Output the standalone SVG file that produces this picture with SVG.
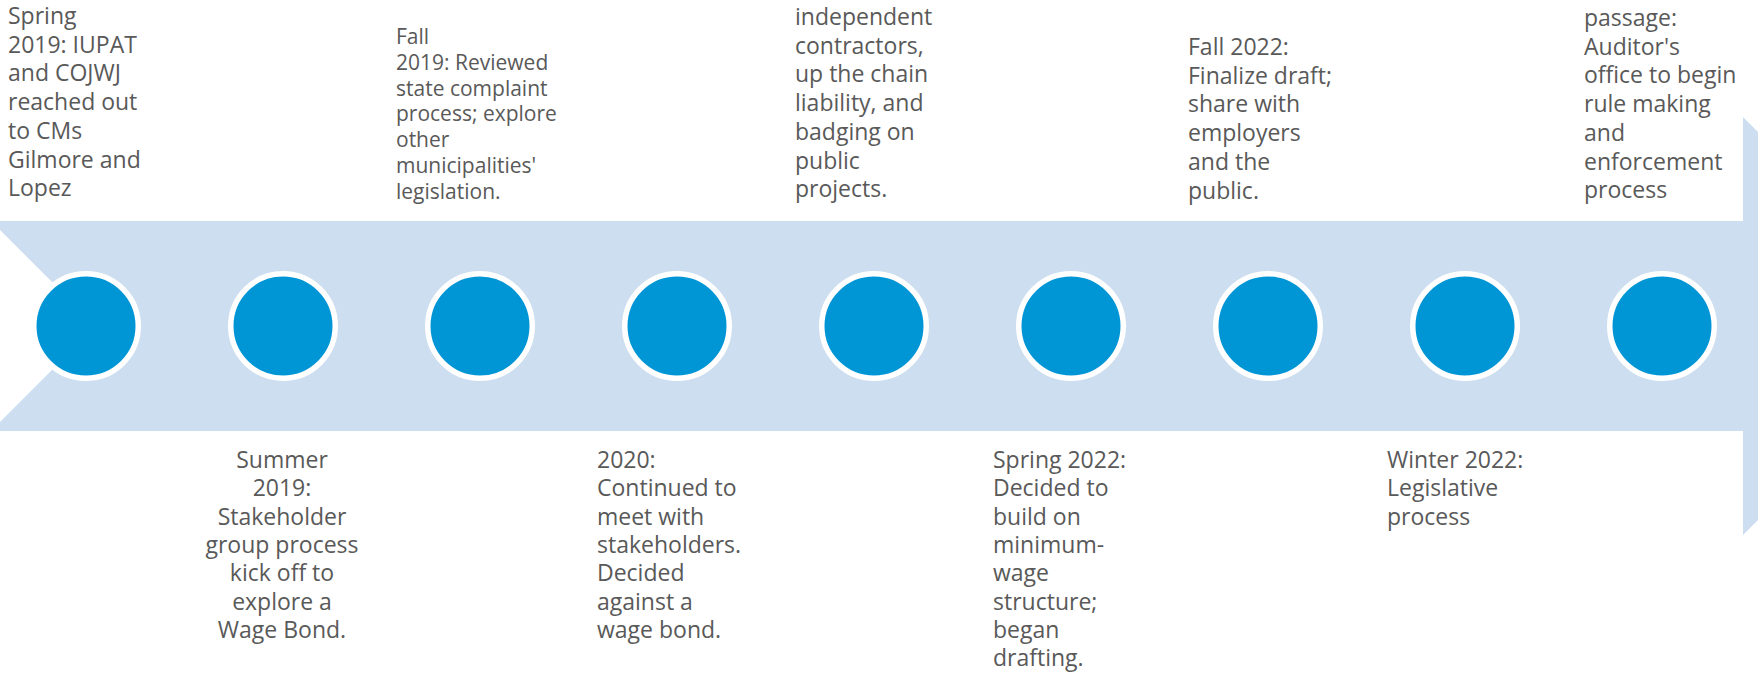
<svg xmlns="http://www.w3.org/2000/svg" width="1758" height="679" viewBox="0 0 1758 679">
<style>
.band{fill:#CCDEF0}
.dot{fill:#0096D6;stroke:#FFFFFF;stroke-width:5.5}
.t{font-family:"Open Sans","Liberation Sans",sans-serif;font-size:23px;fill:#595959}
.s{font-size:21px}
</style>
<rect width="1758" height="679" fill="#FFFFFF"/>
<g id="connectors">
<polygon class="band" points="-9,221 1743,221 1743,117 1952,326 1743,535 1743,431 -9,431 96,326"/>
</g>
<g id="node1"><circle class="dot" cx="86" cy="326" r="52.25"/>
<text class="t" x="8" y="24"><tspan x="8">Spring</tspan><tspan x="8" dy="28.7">2019: IUPAT</tspan><tspan x="8" dy="28.7">and COJWJ</tspan><tspan x="8" dy="28.7">reached out</tspan><tspan x="8" dy="28.7">to CMs</tspan><tspan x="8" dy="28.7">Gilmore and</tspan><tspan x="8" dy="28.7">Lopez</tspan></text></g>
<g id="node2"><circle class="dot" cx="283" cy="326" r="52.25"/>
<text class="t" x="282" y="468" text-anchor="middle"><tspan x="282">Summer</tspan><tspan x="282" dy="28.3">2019:</tspan><tspan x="282" dy="28.3">Stakeholder</tspan><tspan x="282" dy="28.3">group process</tspan><tspan x="282" dy="28.3">kick off to</tspan><tspan x="282" dy="28.3">explore a</tspan><tspan x="282" dy="28.3">Wage Bond.</tspan></text></g>
<g id="node3"><circle class="dot" cx="480" cy="326" r="52.25"/>
<text class="t s" x="396" y="44"><tspan x="396">Fall</tspan><tspan x="396" dy="25.8">2019: Reviewed</tspan><tspan x="396" dy="25.8">state complaint</tspan><tspan x="396" dy="25.8">process; explore</tspan><tspan x="396" dy="25.8">other</tspan><tspan x="396" dy="25.8">municipalities'</tspan><tspan x="396" dy="25.8">legislation.</tspan></text></g>
<g id="node4"><circle class="dot" cx="677" cy="326" r="52.25"/>
<text class="t" x="597" y="468"><tspan x="597">2020:</tspan><tspan x="597" dy="28.3">Continued to</tspan><tspan x="597" dy="28.3">meet with</tspan><tspan x="597" dy="28.3">stakeholders.</tspan><tspan x="597" dy="28.3">Decided</tspan><tspan x="597" dy="28.3">against a</tspan><tspan x="597" dy="28.3">wage bond.</tspan></text></g>
<g id="node5"><circle class="dot" cx="874" cy="326" r="52.25"/>
<text class="t" x="795" y="25"><tspan x="795">independent</tspan><tspan x="795" dy="28.7">contractors,</tspan><tspan x="795" dy="28.7">up the chain</tspan><tspan x="795" dy="28.7">liability, and</tspan><tspan x="795" dy="28.7">badging on</tspan><tspan x="795" dy="28.7">public</tspan><tspan x="795" dy="28.7">projects.</tspan></text></g>
<g id="node6"><circle class="dot" cx="1071" cy="326" r="52.25"/>
<text class="t" x="993" y="468"><tspan x="993">Spring 2022:</tspan><tspan x="993" dy="28.3">Decided to</tspan><tspan x="993" dy="28.3">build on</tspan><tspan x="993" dy="28.3">minimum-</tspan><tspan x="993" dy="28.3">wage</tspan><tspan x="993" dy="28.3">structure;</tspan><tspan x="993" dy="28.3">began</tspan><tspan x="993" dy="28.3">drafting.</tspan></text></g>
<g id="node7"><circle class="dot" cx="1268" cy="326" r="52.25"/>
<text class="t" x="1188" y="55"><tspan x="1188">Fall 2022:</tspan><tspan x="1188" dy="28.7">Finalize draft;</tspan><tspan x="1188" dy="28.7">share with</tspan><tspan x="1188" dy="28.7">employers</tspan><tspan x="1188" dy="28.7">and the</tspan><tspan x="1188" dy="28.7">public.</tspan></text></g>
<g id="node8"><circle class="dot" cx="1465" cy="326" r="52.25"/>
<text class="t" x="1387" y="468"><tspan x="1387">Winter 2022:</tspan><tspan x="1387" dy="28.3">Legislative</tspan><tspan x="1387" dy="28.3">process</tspan></text></g>
<g id="node9"><circle class="dot" cx="1662" cy="326" r="52.25"/>
<text class="t" x="1584" y="26"><tspan x="1584">passage:</tspan><tspan x="1584" dy="28.7">Auditor's</tspan><tspan x="1584" dy="28.7">office to begin</tspan><tspan x="1584" dy="28.7">rule making</tspan><tspan x="1584" dy="28.7">and</tspan><tspan x="1584" dy="28.7">enforcement</tspan><tspan x="1584" dy="28.7">process</tspan></text></g>
</svg>
